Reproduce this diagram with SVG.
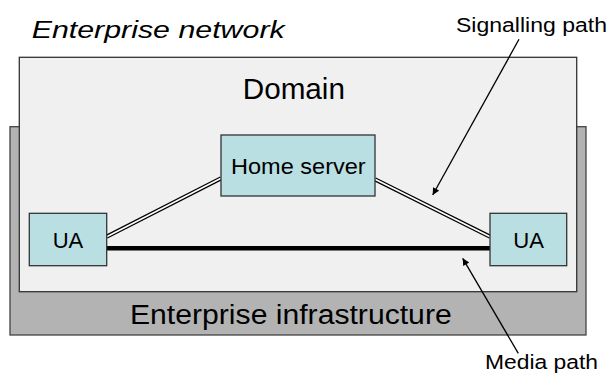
<svg xmlns="http://www.w3.org/2000/svg" width="611" height="373" viewBox="0 0 611 373">
<style>
text{font-family:"Liberation Sans",Arial,sans-serif;fill:#000}
.node{fill:#b9dfe3;stroke:#333;stroke-width:1.3}
.sigo{stroke:#000;stroke-width:4.2;fill:none}
.sigi{stroke:#fff;stroke-width:1.6;fill:none}
.media{stroke:#000;stroke-width:4.5;fill:none}
.lead{stroke:#000;stroke-width:1.3;fill:none;marker-end:url(#ah)}
</style>
<defs>
<marker id="ah" viewBox="0 0 10 10" refX="10" refY="5" markerWidth="9" markerHeight="7" markerUnits="userSpaceOnUse" orient="auto">
<path d="M0,0 L10,5 L0,10 z" fill="#000"/>
</marker>
</defs>
<rect width="611" height="373" fill="#fff"/>
<text x="31.7" y="38.3" font-size="23" font-style="italic" textLength="253" lengthAdjust="spacingAndGlyphs">Enterprise network</text>
<text x="456" y="31.7" font-size="20" textLength="151" lengthAdjust="spacingAndGlyphs">Signalling path</text>
<g id="infrastructure">
<rect x="10" y="126.7" width="576" height="208.3" fill="#b3b3b3" stroke="#444" stroke-width="1.3"/>
<text x="130" y="324.3" font-size="27" textLength="321.7" lengthAdjust="spacingAndGlyphs">Enterprise infrastructure</text>
</g>
<g id="domain">
<rect x="19.3" y="57.3" width="557.4" height="234.4" fill="#f0f0f0" stroke="#333" stroke-width="1.3"/>
<text x="242.7" y="99" font-size="29" textLength="102.3" lengthAdjust="spacingAndGlyphs">Domain</text>
</g>
<g id="connectors">
<line class="sigo" x1="106.7" y1="236.7" x2="221" y2="178.3"/>
<line class="sigi" x1="106.7" y1="236.7" x2="221" y2="178.3"/>
<line class="sigo" x1="375" y1="179.3" x2="490" y2="236.7"/>
<line class="sigi" x1="375" y1="179.3" x2="490" y2="236.7"/>
<line class="media" x1="106.7" y1="248.3" x2="490" y2="248.3"/>
<line class="lead" x1="519" y1="39.3" x2="432.7" y2="195"/>
<line class="lead" x1="518.3" y1="353.3" x2="462.7" y2="258.3"/>
</g>
<g id="home-server">
<rect class="node" x="221" y="135" width="154" height="61"/>
<text x="231" y="174.3" font-size="22" textLength="134.7" lengthAdjust="spacingAndGlyphs">Home server</text>
</g>
<g id="ua-left">
<rect class="node" x="29.3" y="213.3" width="77.4" height="52.4"/>
<text x="52.7" y="248.3" font-size="22" textLength="30.6" lengthAdjust="spacingAndGlyphs">UA</text>
</g>
<g id="ua-right">
<rect class="node" x="490" y="213.3" width="76.7" height="52.4"/>
<text x="513.3" y="248.3" font-size="22" textLength="30.7" lengthAdjust="spacingAndGlyphs">UA</text>
</g>
<text x="485" y="369" font-size="20.5" textLength="113" lengthAdjust="spacingAndGlyphs">Media path</text>
</svg>
